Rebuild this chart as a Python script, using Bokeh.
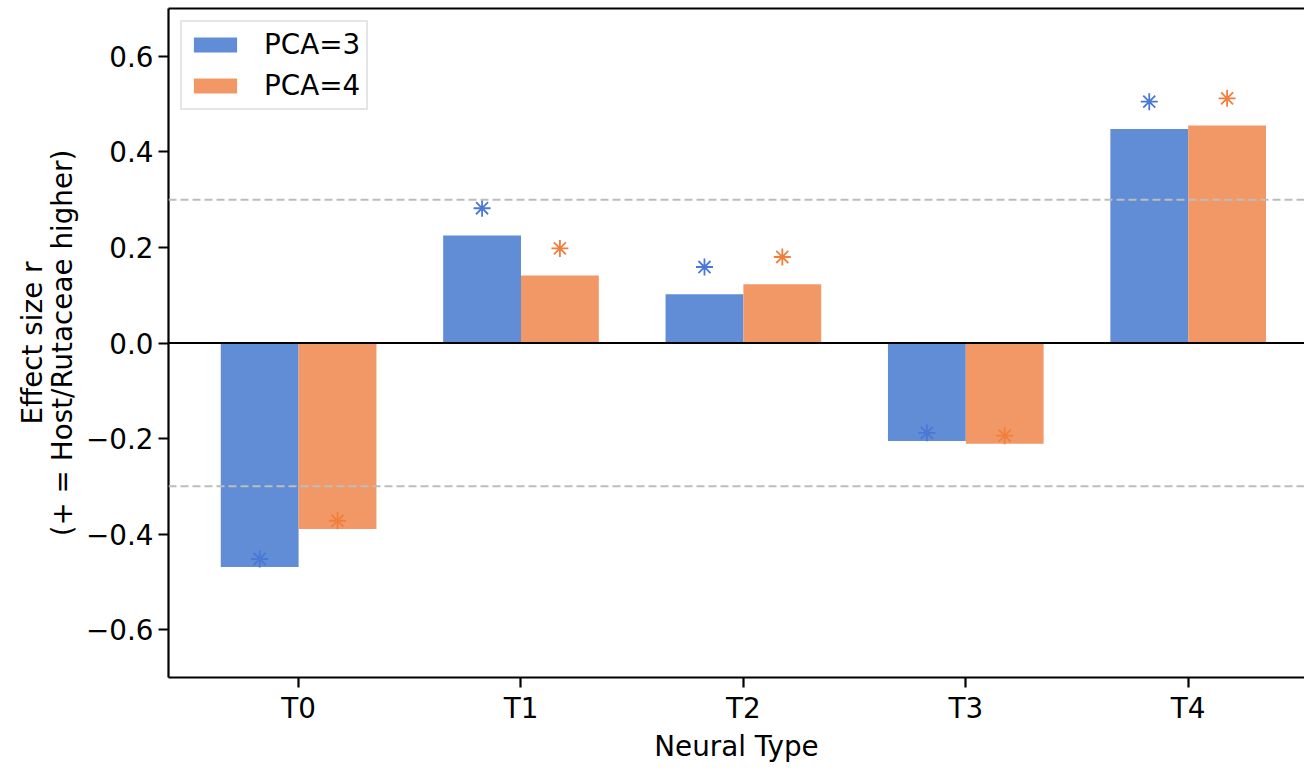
from bokeh.plotting import figure
from bokeh.models import Range1d, FixedTicker, LinearAxis, Span, Legend, LegendItem, ColumnDataSource
from bokeh.embed import file_html
from bokeh.resources import INLINE

categories = ["T0", "T1", "T2", "T3", "T4"]
pca3 = [-0.469, 0.225, 0.102, -0.205, 0.448]
pca4 = [-0.389, 0.141, 0.123, -0.211, 0.455]
y_ticks = [-0.6, -0.4, -0.2, 0.0, 0.2, 0.4, 0.6]
y_tick_labels = ["\u22120.6", "\u22120.4", "\u22120.2", "0.0", "0.2", "0.4", "0.6"]
thresholds = [-0.3, 0.3]

BLUE = "#618cd6"
ORANGE = "#f29866"
BLUE_STAR = "#4a78d6"
ORANGE_STAR = "#f07f3e"
FONT = "DejaVu Sans"
FS = "27.8px"

width = 0.35
idx = list(range(len(categories)))
x3 = [i - width / 2 for i in idx]
x4 = [i + width / 2 for i in idx]

def star_y(v):
    return v + (0.057 if v >= 0 else 0.017)

src3 = ColumnDataSource(dict(x=x3, top=pca3, sy=[star_y(v) for v in pca3]))
src4 = ColumnDataSource(dict(x=x4, top=pca4, sy=[star_y(v) for v in pca4]))

p = figure(width=1304, height=765, output_backend="svg", toolbar_location=None,
           x_range=Range1d(-0.585, 4.523), y_range=Range1d(-0.7, 0.7),
           min_border_left=168, min_border_right=0, min_border_top=8, min_border_bottom=86)
p.outline_line_color = None
p.grid.visible = False
p.background_fill_color = "white"
p.border_fill_color = "white"

for t in thresholds:
    p.add_layout(Span(location=t, dimension="width", line_color="#bdbdbd",
                      line_width=2, line_dash="8 4"))

r3 = p.vbar(x="x", top="top", bottom=0, width=width, source=src3, fill_color=BLUE, line_color=None)
r4 = p.vbar(x="x", top="top", bottom=0, width=width, source=src4, fill_color=ORANGE, line_color=None)

p.add_layout(Span(location=0, dimension="width", line_color="black", line_width=2))

p.scatter(x="x", y="sy", source=src3, marker="asterisk", size=17, line_color=BLUE_STAR, line_width=1.8)
p.scatter(x="x", y="sy", source=src4, marker="asterisk", size=17, line_color=ORANGE_STAR, line_width=1.8)

# axes styling
for ax in (p.xaxis[0], p.yaxis[0]):
    ax.axis_line_width = 2.2
    ax.major_tick_line_width = 2.2
    ax.major_tick_out = 10
    ax.major_tick_in = 0
    ax.minor_tick_line_color = None
    ax.major_label_text_font = FONT
    ax.major_label_text_font_size = FS
    ax.major_label_text_color = "black"
    ax.axis_label_text_font = FONT
    ax.axis_label_text_font_size = FS
    ax.axis_label_text_font_style = "normal"
    ax.axis_label_text_color = "black"
    ax.axis_label_text_line_height = 0.9

p.xaxis.ticker = FixedTicker(ticks=idx)
p.xaxis.major_label_overrides = {i: c for i, c in zip(idx, categories)}
p.xaxis.major_label_standoff = 4
p.xaxis.axis_label = "Neural Type"
p.xaxis.axis_label_standoff = 2

p.yaxis.ticker = FixedTicker(ticks=y_ticks)
p.yaxis.major_label_overrides = {t: l for t, l in zip(y_ticks, y_tick_labels)}
p.yaxis.major_label_standoff = 5
p.yaxis.axis_label = "Effect size r\n(+ = Host/Rutaceae higher)"
p.yaxis.axis_label_standoff = 4

top_ax = LinearAxis(ticker=FixedTicker(ticks=[]), axis_line_width=2.2,
                    major_tick_line_color=None, minor_tick_line_color=None,
                    major_label_text_font_size="0px", major_label_standoff=0)
p.add_layout(top_ax, "above")

legend = Legend(items=[LegendItem(label="PCA=3", renderers=[r3]),
                       LegendItem(label="PCA=4", renderers=[r4])],
                location="top_left", margin=12, padding=6,
                glyph_width=54, glyph_height=19, label_standoff=22, spacing=8,
                label_text_font=FONT, label_text_font_size=FS, label_text_color="black",
                border_line_color="#cccccc", border_line_width=2,
                background_fill_alpha=0.8)
p.add_layout(legend)

open("out.html", "w").write(file_html(p, INLINE))
